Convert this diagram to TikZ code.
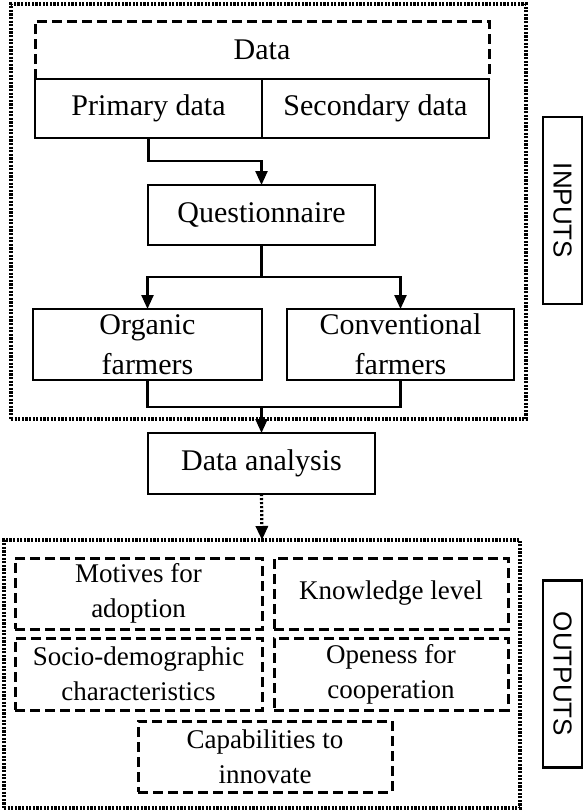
\documentclass[tikz,border=0pt]{standalone}
\usepackage{fontspec}
\setmainfont{Liberation Serif}
\setsansfont{Liberation Sans}
\usetikzlibrary{arrows.meta, positioning}
\tikzset{
    base/.style={align=center, outer sep=0pt, inner sep=1pt, font=\fontsize{15}{20}\selectfont},
    process/.style={base, draw, line width=1.2pt, rectangle, minimum width=113.5pt},
    result/.style={base, draw, line width=1.5pt, dash pattern=on 5pt off 2.5pt, minimum height=35.5pt, font=\fontsize{13.5}{17.5}\selectfont},
    dashline/.style={line width=1.5pt, dash pattern=on 5pt off 2.5pt},
    group/.style={draw, line width=1.7pt, dash pattern=on 1.1pt off 0.7pt, outer sep=0pt, inner sep=0pt},
    tag/.style={draw, line width=1.1pt, rotate=-90, minimum width=93.5pt, minimum height=19.5pt, inner sep=0pt, outer sep=0pt, font=\sffamily\fontsize{13}{15}\selectfont},
    arrow/.style={-{Triangle[length=7pt, width=6pt]}, line width=1.2pt},
    line/.style={line width=1.2pt}
}

\begin{document}
\begin{tikzpicture}[x=1pt, y=1pt]
    \useasboundingbox (0,0) rectangle (291.5,-405.5);

    % Groups
    \node (inbox) [group, minimum width=257.5pt, minimum height=207.5pt] at (134.25,-105.75) {};
    \node (outbox) [group, minimum width=258pt, minimum height=134pt] at (131,-337) {};
    \node (intag) [tag] at (281.25,-105.25) {INPUTS};
    \node (outtag) [tag] at (281.25,-337) {OUTPUTS};

    % Inputs
    \node (data) [base, minimum width=227pt, minimum height=29pt] at (131,-25) {Data};
    \draw [dashline] (data.south west) |- (data.north east) -- (data.south east);
    \node (primary) [process, minimum height=29.5pt, anchor=north west] at (data.south west) {Primary data};
    \node (secondary) [process, minimum height=29.5pt, right=0pt of primary] {Secondary data};

    \node (quest) [process, minimum height=30pt] at (130.75,-107.5) {Questionnaire};

    \node (organic) [process, minimum width=114.5pt, minimum height=35.5pt] at (73.75,-172.25) {Organic\\farmers};
    \node (conv) [process, minimum height=35.5pt, right=12.5pt of organic] {Conventional\\farmers};

    \node (danalysis) [process, minimum height=30.5pt] at (130.75,-231.75) {Data analysis};

    % Outputs
    \node (motives) [result, minimum width=123.5pt] at (69.25,-296.75) {Motives for\\adoption};
    \node (knowledge) [result, minimum width=117pt, right=6pt of motives] {Knowledge level};
    \node (socio) [result, minimum width=123.5pt, minimum height=36pt, below=4.5pt of motives] {Socio-demographic\\characteristics};
    \node (openess) [result, minimum width=117pt, minimum height=36pt, right=6pt of socio] {Openess for\\cooperation};
    \node (capab) [result, minimum width=127pt] at (132.5,-378.25) {Capabilities to\\innovate};

    % Flows
    \draw [arrow] (primary.south) -- ++(0,-11.5) -| (quest.north);
    \draw [line] (quest.south) -- ++(0,-16) coordinate (split);
    \draw [arrow] (split) -| (organic.north);
    \draw [arrow] (split) -| (conv.north);
    \draw [line] (organic.south) -- ++(0,-13.5) coordinate (merge) -| (conv.south);
    \draw [arrow] (merge -| danalysis.north) -- (danalysis.north);
    \draw [arrow, dash pattern=on 1.1pt off 0.9pt, line width=1.6pt] (danalysis.south) -- (outbox.north);
\end{tikzpicture}
\end{document}
